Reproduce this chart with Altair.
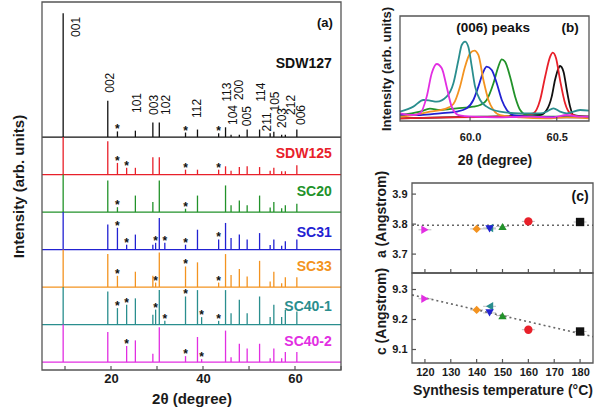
import altair as alt
import pandas as pd

FONT = "Liberation Sans"

# ---------------- shared sample info ----------------
samples = ["SDW127", "SDW125", "SC20", "SC31", "SC33", "SC40-1", "SC40-2"]
colors = ["#111111", "#e8202a", "#22922a", "#2222d2", "#f39320", "#2a8e8e", "#e22ee2"]
offsets = [6, 5, 4, 3, 2, 1, 0]

# ---------------- panel (a): XRD patterns ----------------
hkl = ["001", "002", "101", "003", "102", "112", "113", "104", "200", "005",
       "114", "211", "105", "203", "212", "006"]
hkl_pos = [9.6, 19.3, 25.3, 29.1, 30.5, 38.8, 44.9, 46.1, 47.9, 49.6,
           52.3, 54.6, 55.4, 57.1, 57.9, 60.4]
peak_h = {
    "SDW127": [3.30, 0.97, 0.17, 0.39, 0.39, 0.20, 0.26, 0.06, 0.06, 0.20, 0.20, 0.10, 0.14, 0.06, 0.06, 0.20],
    "SDW125": [1.00, 0.89, 0.18, 0.46, 0.46, 0.13, 0.22, 0.10, 0.20, 0.22, 0.20, 0.10, 0.18, 0.09, 0.09, 0.25],
    "SC20":   [1.00, 0.84, 0.44, 0.27, 0.84, 0.44, 0.71, 0.18, 0.31, 0.18, 0.44, 0.12, 0.27, 0.10, 0.18, 0.22],
    "SC31":   [1.00, 0.67, 0.40, 0.13, 0.84, 0.53, 0.71, 0.31, 0.40, 0.27, 0.44, 0.12, 0.27, 0.10, 0.22, 0.27],
    "SC33":   [1.00, 0.88, 0.41, 0.30, 0.92, 0.66, 0.88, 0.32, 0.48, 0.28, 0.70, 0.15, 0.41, 0.10, 0.26, 0.26],
    "SC40-1": [1.00, 0.88, 0.70, 0.26, 0.92, 0.92, 0.92, 0.30, 0.66, 0.30, 0.75, 0.20, 0.53, 0.20, 0.39, 0.35],
    "SC40-2": [1.00, 0.80, 0.58, 0.22, 0.93, 0.67, 0.84, 0.13, 0.49, 0.36, 0.49, 0.10, 0.36, 0.10, 0.27, 0.27],
}
imp_pos = [21.4, 23.4, 29.7, 31.7, 36.2, 39.7, 43.4]
imp_h = {
    "SDW127": [0.15, 0.00, 0.00, 0.00, 0.12, 0.00, 0.10],
    "SDW125": [0.31, 0.18, 0.00, 0.00, 0.13, 0.00, 0.13],
    "SC20":   [0.13, 0.00, 0.00, 0.00, 0.09, 0.00, 0.00],
    "SC31":   [0.58, 0.13, 0.18, 0.18, 0.13, 0.00, 0.27],
    "SC33":   [0.30, 0.00, 0.12, 0.00, 0.55, 0.00, 0.12],
    "SC40-1": [0.44, 0.53, 0.40, 0.10, 0.75, 0.20, 0.10],
    "SC40-2": [0.00, 0.43, 0.00, 0.00, 0.16, 0.08, 0.00],
}
a_xlim = [5, 70]
a_ylim = [-0.21, 9.6]
a_xticks = [20, 40, 60]
a_xminor = [10, 20, 30, 40, 50, 60, 70]

# annotation placement (panel a)
hkl_lab_x = [12.4, 19.8, 25.6, 29.4, 31.9, 38.8, 45.2, 46.6, 47.9, 49.6, 52.5, 54.0, 55.7, 57.1, 59.1, 61.2]
hkl_lab_y = [8.67, 7.18, 6.64, 6.59, 6.59, 6.51, 6.94, 6.32, 6.99, 6.29, 6.94, 6.15, 6.68, 6.24, 6.59, 6.32]
name_x = 68.0
name_y = [7.96, 5.55, 4.54, 3.44, 2.54, 1.47, 0.54]

# ---------------- panel (b): (006) peaks ----------------
b_x = {
    "SDW127": [59.596, 60.058, 60.404, 60.442, 60.471, 60.490, 60.510, 60.519, 60.539, 60.558, 60.577, 60.596, 60.686],
    "SDW125": [59.596, 59.865, 60.250, 60.365, 60.404, 60.433, 60.462, 60.477, 60.496, 60.519, 60.548, 60.577, 60.635, 60.686],
    "SC20":   [59.596, 59.712, 59.769, 59.827, 59.923, 60.019, 60.058, 60.096, 60.135, 60.163, 60.183, 60.202, 60.231, 60.260, 60.289, 60.327, 60.442, 60.686],
    "SC31":   [59.596, 59.712, 59.827, 59.923, 59.981, 60.019, 60.048, 60.077, 60.096, 60.125, 60.154, 60.183, 60.212, 60.250, 60.365, 60.519, 60.686],
    "SC33":   [59.596, 59.673, 59.769, 59.865, 59.904, 59.942, 59.971, 60.000, 60.025, 60.048, 60.077, 60.106, 60.135, 60.173, 60.289, 60.442, 60.558, 60.686],
    "SC40-1": [59.596, 59.673, 59.731, 59.769, 59.808, 59.865, 59.904, 59.933, 59.952, 59.971, 59.990, 60.010, 60.029, 60.058, 60.096, 60.173, 60.289, 60.404, 60.442, 60.481, 60.519, 60.558, 60.635, 60.686],
    "SC40-2": [59.596, 59.673, 59.712, 59.750, 59.779, 59.808, 59.837, 59.865, 59.894, 59.933, 60.019, 60.154, 60.346, 60.481, 60.558, 60.635, 60.686],
}
b_y = {
    "SDW127": [2.5, 4.1, 5.7, 10.5, 23.2, 39.0, 50.2, 52.4, 47.0, 29.5, 13.7, 5.7, 4.1],
    "SDW125": [2.5, 3.5, 4.1, 7.3, 20.0, 42.2, 61.3, 65.1, 59.7, 39.0, 16.8, 7.3, 4.1, 4.1],
    "SC20":   [5.7, 8.9, 11.7, 10.5, 12.1, 13.7, 15.2, 20.0, 35.9, 51.7, 58.7, 56.5, 42.2, 23.2, 10.5, 5.7, 4.1, 4.1],
    "SC31":   [5.7, 5.7, 7.3, 8.9, 12.1, 20.0, 32.7, 47.0, 51.7, 48.6, 35.9, 20.0, 10.5, 5.7, 4.1, 3.5, 3.5],
    "SC33":   [4.1, 5.7, 8.9, 12.1, 16.2, 32.7, 51.7, 64.4, 67.0, 62.9, 39.0, 20.0, 10.5, 5.7, 3.5, 2.5, 3.5, 2.5],
    "SC40-1": [8.9, 13.7, 20.0, 19.4, 18.4, 23.2, 35.9, 58.1, 72.4, 75.6, 70.8, 51.7, 32.7, 20.0, 13.7, 8.9, 7.3, 7.3, 8.9, 12.1, 8.9, 7.3, 10.5, 9.8],
    "SC40-2": [7.3, 5.7, 7.3, 23.2, 45.4, 54.3, 50.2, 32.7, 13.7, 5.7, 4.1, 3.5, 4.1, 3.5, 5.7, 4.1, 4.1],
}
b_xlim = [59.596, 60.686]
b_ylim = [0, 100]
b_xticks = [60.0, 60.5]

# ---------------- panel (c): lattice parameters ----------------
temps = [180, 160, 150, 145, 140, 145, 120]
a_vals = [3.807, 3.809, 3.792, 3.784, 3.784, 3.787, 3.781]
c_vals = [9.160, 9.166, 9.213, 9.222, 9.232, 9.244, 9.269]
t_err = [2.5, 2.5, 2.5, 2.5, 2.5, 2.5, 2.5]
shapes = ["square", "circle", "triangle-up", "triangle-down", "diamond", "triangle-left", "triangle-right"]
fit_t = [115, 185]
fit_a = [3.796, 3.796]
fit_c = [9.282, 9.143]
c_xlim = [115, 185]
ca_ylim = [3.637, 3.937]
cc_ylim = [9.055, 9.355]
c_xticks = [120, 130, 140, 150, 160, 170, 180]
ca_yticks = [3.7, 3.8, 3.9]
cc_yticks = [9.1, 9.2, 9.3]

# ---------------- layout (pixel ranges of each panel) ----------------
W, H = 597, 412
A_X, A_Y = [42, 341], [370, 2]
B_X, B_Y = [400, 589], [121, 16]
C_X = [412, 593]
CA_Y, CC_Y = [273, 183], [363, 273]
FRAME = "#555555"
TICK_PX = 4


def px_to_units(px, lim, rng):
    return px * (lim[1] - lim[0]) / abs(rng[1] - rng[0])


color_enc = alt.Color("sample:N", scale=alt.Scale(domain=samples, range=colors), legend=None)

# ---------- panel (a) ----------
xa_scale = alt.Scale(domain=a_xlim, range=A_X, nice=False, zero=False)
ya_scale = alt.Scale(domain=a_ylim, range=A_Y, nice=False, zero=False)
ax_a_x = alt.Axis(orient="bottom", offset=A_Y[0] - H, values=a_xticks, ticks=False, domain=False,
                  grid=False, labelFontSize=13, labelFontWeight="bold", labelPadding=2,
                  title="2θ (degree)", titleFontSize=15, titleFontWeight="bold", titlePadding=6,
                  minExtent=0)
ax_a_y = alt.Axis(orient="left", offset=-A_X[0], labels=False, ticks=False, domain=False, grid=False,
                  title="Intensity (arb. units)", titleFontSize=15, titleFontWeight="bold",
                  titlePadding=16, minExtent=0, maxExtent=0)


def XA(f):
    return alt.X(f, type="quantitative", scale=xa_scale, axis=ax_a_x)


def YA(f):
    return alt.Y(f, type="quantitative", scale=ya_scale, axis=ax_a_y)


peak_rows, star_rows = [], []
for s, off in zip(samples, offsets):
    for p, h in zip(hkl_pos, peak_h[s]):
        peak_rows.append(dict(sample=s, x=p, y0=off, y1=off + h))
    for p, h in zip(imp_pos, imp_h[s]):
        if h > 0:
            peak_rows.append(dict(sample=s, x=p, y0=off, y1=off + h))
            star_rows.append(dict(x=p, y=off + h))
peaks_df = pd.DataFrame(peak_rows)
stars_df = pd.DataFrame(star_rows)
base_df = pd.DataFrame(dict(sample=samples, x0=[a_xlim[0]] * 7, x1=[a_xlim[1]] * 7, y=offsets))
hkl_df = pd.DataFrame(dict(t=hkl, x=hkl_lab_x, y=hkl_lab_y))
names_df = pd.DataFrame(dict(sample=samples, x=[name_x] * 7, y=name_y))
frame_a = pd.DataFrame(dict(x0=[a_xlim[0]], x1=[a_xlim[1]], y0=[a_ylim[0]], y1=[a_ylim[1]]))
tag_a = pd.DataFrame(dict(t=["(a)"], x=[66.5], y=[9.04]))
ta = px_to_units(TICK_PX, a_ylim, A_Y)
ticks_a = pd.DataFrame(dict(x=a_xminor, y0=[a_ylim[0]] * len(a_xminor), y1=[a_ylim[0] + ta] * len(a_xminor)))

a_base = alt.Chart(base_df).mark_rule(strokeWidth=1.2).encode(
    x=XA("x0"), x2="x1", y=YA("y"), color=color_enc)
a_peaks = alt.Chart(peaks_df).mark_rule(strokeWidth=1.3).encode(
    x=XA("x"), y=YA("y0"), y2="y1", color=color_enc)
a_stars = alt.Chart(stars_df).mark_text(text="*", fontSize=12, fontWeight="bold", baseline="alphabetic",
                                        dy=2, color="#111111", font=FONT).encode(x=XA("x"), y=YA("y"))
a_hkl = alt.Chart(hkl_df).mark_text(angle=270, align="left", baseline="middle", fontSize=12,
                                    color="#111111", font=FONT).encode(x=XA("x"), y=YA("y"), text="t:N")
a_names = alt.Chart(names_df).mark_text(align="right", baseline="middle", fontSize=14, fontWeight="bold",
                                        font=FONT).encode(x=XA("x"), y=YA("y"), text="sample:N", color=color_enc)
a_tag = alt.Chart(tag_a).mark_text(align="center", baseline="middle", fontSize=13, fontWeight="bold",
                                   color="#111111", font=FONT).encode(x=XA("x"), y=YA("y"), text="t:N")
a_ticks = alt.Chart(ticks_a).mark_rule(color=FRAME, strokeWidth=1.2).encode(x=XA("x"), y=YA("y0"), y2="y1")
a_frame = alt.Chart(frame_a).mark_rect(fillOpacity=0, stroke=FRAME, strokeWidth=1.3).encode(
    x=XA("x0"), x2="x1", y=YA("y0"), y2="y1")
panel_a = alt.layer(a_base, a_peaks, a_stars, a_hkl, a_names, a_tag, a_ticks, a_frame)

# ---------- panel (b) ----------
xb_scale = alt.Scale(domain=b_xlim, range=B_X, nice=False, zero=False)
yb_scale = alt.Scale(domain=b_ylim, range=B_Y, nice=False, zero=False)
ax_b_x = alt.Axis(orient="bottom", offset=B_Y[0] - H, values=b_xticks, format=".1f", ticks=False,
                  domain=False, grid=False, labelFontSize=11, labelFontWeight="bold", labelPadding=10,
                  title="2θ (degree)", titleFontSize=14, titleFontWeight="bold", titlePadding=11,
                  minExtent=0)
ax_b_y = alt.Axis(orient="left", offset=-B_X[0], labels=False, ticks=False, domain=False, grid=False,
                  title="Intensity (arb. units)", titleFontSize=13, titleFontWeight="bold",
                  titlePadding=7, minExtent=0, maxExtent=0)


def XB(f):
    return alt.X(f, type="quantitative", scale=xb_scale, axis=ax_b_x)


def YB(f):
    return alt.Y(f, type="quantitative", scale=yb_scale, axis=ax_b_y)


b_rows = []
for s in samples:
    for xv, yv in zip(b_x[s], b_y[s]):
        b_rows.append(dict(sample=s, x=xv, y=yv))
b_df = pd.DataFrame(b_rows)
frame_b = pd.DataFrame(dict(x0=[b_xlim[0]], x1=[b_xlim[1]], y0=[b_ylim[0]], y1=[b_ylim[1]]))
tag_b = pd.DataFrame(dict(t=["(006) peaks", "(b)"], x=[60.133, 60.577], y=[88.6, 88.6]))
tb = px_to_units(TICK_PX, b_ylim, B_Y)
ticks_b = pd.DataFrame(dict(x=b_xticks, y0=[b_ylim[0]] * 2, y1=[b_ylim[0] + tb] * 2))

b_lines = alt.Chart(b_df).mark_line(interpolate="monotone", strokeWidth=1.8).encode(
    x=XB("x"), y=YB("y"), color=color_enc, detail="sample:N")
b_tags = alt.Chart(tag_b).mark_text(align="center", baseline="middle", fontSize=13.5, fontWeight="bold",
                                    color="#111111", font=FONT).encode(x=XB("x"), y=YB("y"), text="t:N")
b_ticks = alt.Chart(ticks_b).mark_rule(color=FRAME, strokeWidth=1.2).encode(x=XB("x"), y=YB("y0"), y2="y1")
b_frame = alt.Chart(frame_b).mark_rect(fillOpacity=0, stroke=FRAME, strokeWidth=1.3).encode(
    x=XB("x0"), x2="x1", y=YB("y0"), y2="y1")
panel_b = alt.layer(b_lines, b_tags, b_ticks, b_frame)

# ---------- panel (c) ----------
xc_scale = alt.Scale(domain=c_xlim, range=C_X, nice=False, zero=False)
yca_scale = alt.Scale(domain=ca_ylim, range=CA_Y, nice=False, zero=False)
ycc_scale = alt.Scale(domain=cc_ylim, range=CC_Y, nice=False, zero=False)
ax_c_x = alt.Axis(orient="bottom", offset=CC_Y[0] - H, values=c_xticks, ticks=False, domain=False,
                  grid=False, labelFontSize=11, labelFontWeight="bold", labelPadding=3,
                  title="Synthesis temperature (°C)", titleFontSize=14, titleFontWeight="bold",
                  titlePadding=6, minExtent=0)
ax_ca_y = alt.Axis(orient="left", offset=-C_X[0], values=ca_yticks, format=".1f", ticks=False,
                   domain=False, grid=False, labelFontSize=11, labelFontWeight="bold", labelPadding=5,
                   title="a (Angstrom)", titleFontSize=14, titleFontWeight="bold", titlePadding=3,
                   titleY=214, minExtent=0)
ax_cc_y = alt.Axis(orient="left", offset=-C_X[0], values=cc_yticks, format=".1f", ticks=False,
                   domain=False, grid=False, labelFontSize=11, labelFontWeight="bold", labelPadding=5,
                   title="c (Angstrom)", titleFontSize=14, titleFontWeight="bold", titlePadding=3,
                   titleY=311, minExtent=0)

shape_enc = alt.Shape("sample:N", scale=alt.Scale(domain=samples, range=shapes), legend=None)
c_df = pd.DataFrame(dict(sample=samples, t=temps, a=a_vals, c=c_vals, err=t_err))
c_df["order"] = [0, 1, 2, 5, 3, 4, 6]
fit_df = pd.DataFrame(dict(t=fit_t, a=fit_a, c=fit_c))
frame_c = pd.DataFrame(dict(x0=[c_xlim[0]], x1=[c_xlim[1]], a0=[ca_ylim[0]], a1=[ca_ylim[1]],
                            c0=[cc_ylim[0]], c1=[cc_ylim[1]]))
tag_c = pd.DataFrame(dict(t=["(c)"], x=[180.0], y=[3.890]))
tcx = px_to_units(TICK_PX, c_xlim, C_X)
tca = px_to_units(TICK_PX, ca_ylim, CA_Y)
tcc = px_to_units(TICK_PX, cc_ylim, CC_Y)
xt_a = pd.DataFrame(dict(x=c_xticks, y0=[ca_ylim[0]] * 7, y1=[ca_ylim[0] + tca] * 7))
xt_c = pd.DataFrame(dict(x=c_xticks, y0=[cc_ylim[0]] * 7, y1=[cc_ylim[0] + tcc] * 7))
yt_a = pd.DataFrame(dict(y=ca_yticks, x0=[c_xlim[0]] * 3, x1=[c_xlim[0] + tcx] * 3))
yt_c = pd.DataFrame(dict(y=cc_yticks, x0=[c_xlim[0]] * 3, x1=[c_xlim[0] + tcx] * 3))


def c_layer(field, yscale, yaxis, xaxis, frame0, frame1, xt_df, yt_df):
    def XC(f):
        return alt.X(f, type="quantitative", scale=xc_scale, axis=xaxis)

    def YC(f):
        return alt.Y(f, type="quantitative", scale=yscale, axis=yaxis)

    err = alt.Chart(c_df).transform_calculate(lo="datum.t - datum.err", hi="datum.t + datum.err").mark_rule(
        color="#bdbdbd", strokeWidth=1).encode(x=XC("lo"), x2="hi", y=YC(field))
    fit = alt.Chart(fit_df).mark_line(color="#666666", strokeWidth=1.6, strokeDash=[2, 3]).encode(
        x=XC("t"), y=YC(field))
    pts = alt.Chart(c_df).mark_point(filled=True, size=70, opacity=1).encode(
        x=XC("t"), y=YC(field), color=color_enc, shape=shape_enc, order="order:Q")
    xt = alt.Chart(xt_df).mark_rule(color=FRAME, strokeWidth=1.2).encode(x=XC("x"), y=YC("y0"), y2="y1")
    yt = alt.Chart(yt_df).mark_rule(color=FRAME, strokeWidth=1.2).encode(x=XC("x0"), x2="x1", y=YC("y"))
    frm = alt.Chart(frame_c).mark_rect(fillOpacity=0, stroke=FRAME, strokeWidth=1.3).encode(
        x=XC("x0"), x2="x1", y=YC(frame0), y2=frame1)
    return [err, fit, pts, xt, yt, frm], XC, YC


layers_a, XC1, YC1 = c_layer("a", yca_scale, ax_ca_y, None, "a0", "a1", xt_a, yt_a)
c_tag = alt.Chart(tag_c).mark_text(align="center", baseline="middle", fontSize=14, fontWeight="bold",
                                   color="#111111", font=FONT).encode(x=XC1("x"), y=YC1("y"), text="t:N")
panel_ca = alt.layer(*layers_a, c_tag)
layers_c, XC2, YC2 = c_layer("c", ycc_scale, ax_cc_y, ax_c_x, "c0", "c1", xt_c, yt_c)
panel_cc = alt.layer(*layers_c)

chart = alt.layer(panel_a, panel_b, panel_ca, panel_cc).resolve_scale(
    x="independent", y="independent"
).properties(
    width=W, height=H, padding=0, autosize=alt.AutoSizeParams(type="none"), background="white"
).configure_view(stroke=None).configure_axis(
    labelFont=FONT, titleFont=FONT, labelColor="#1a1a1a", titleColor="#1a1a1a"
).configure_text(font=FONT)

chart.save("out.html", embed_options={"renderer": "svg", "actions": False})
